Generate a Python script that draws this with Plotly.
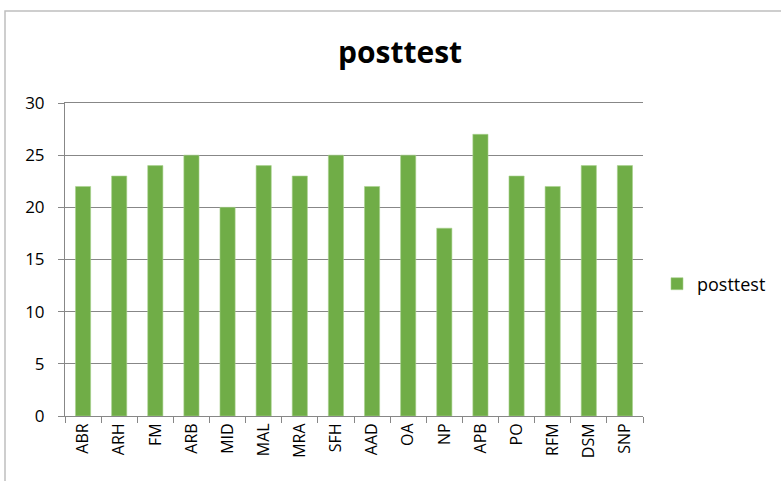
import plotly.graph_objects as go

categories = ["ABR", "ARH", "FM", "ARB", "MID", "MAL", "MRA", "SFH",
              "AAD", "OA", "NP", "APB", "PO", "RFM", "DSM", "SNP"]
posttest = [22, 23, 24, 25, 20, 24, 23, 25, 22, 25, 18, 27, 23, 22, 24, 24]
y_ticks = [0, 5, 10, 15, 20, 25, 30]

font_family = "Open Sans, Noto Sans, Liberation Sans, sans-serif"

fig = go.Figure()
fig.add_trace(go.Bar(
    x=categories, y=posttest, name="posttest",
    marker=dict(color="#70AD47", line=dict(color="#A9D18E", width=0.6)),
    showlegend=True,
))

L, R, T, B = 65, 138, 103, 65
W, H = 781, 481
pw, ph = W - L - R, H - T - B

fig.update_layout(
    width=W, height=H,
    margin=dict(l=L, r=R, t=T, b=B, autoexpand=False),
    paper_bgcolor="white", plot_bgcolor="white",
    font=dict(family=font_family, color="#000000", size=16),
    title=dict(text="<b>posttest</b>", x=400 / W, xanchor="center",
               y=1 - 52 / H, yanchor="middle", xref="container",
               font=dict(size=30, family=font_family, color="#000000")),
    bargap=0.58,
    legend=dict(x=(657 - L) / pw, y=(416 - 284) / ph, xanchor="left", yanchor="middle",
                itemwidth=30, font=dict(size=18), bgcolor="rgba(0,0,0,0)"),
    xaxis=dict(showline=True, linecolor="#878787", linewidth=1, mirror=True,
               ticks="outside", ticklen=6, tickcolor="#878787",
               tickson="boundaries", tickangle=-90,
               tickfont=dict(size=16), showgrid=False),
    yaxis=dict(range=[0, 30], tickvals=y_ticks, showline=True,
               linecolor="#878787", linewidth=1,
               ticks="outside", ticklen=6, tickcolor="#878787",
               ticklabelstandoff=10,
               showgrid=True, gridcolor="#878787", gridwidth=1,
               zeroline=False, tickfont=dict(size=17)),
    shapes=[dict(type="rect", xref="paper", yref="paper",
                 x0=(5 - L) / pw, x1=1.5, y0=-0.5, y1=(416 - 11) / ph,
                 line=dict(color="#BFBFBF", width=1.5), layer="below")],
)

fig.write_html("out.html", config={"displayModeBar": False},
               post_script="document.body.style.margin='0';")
